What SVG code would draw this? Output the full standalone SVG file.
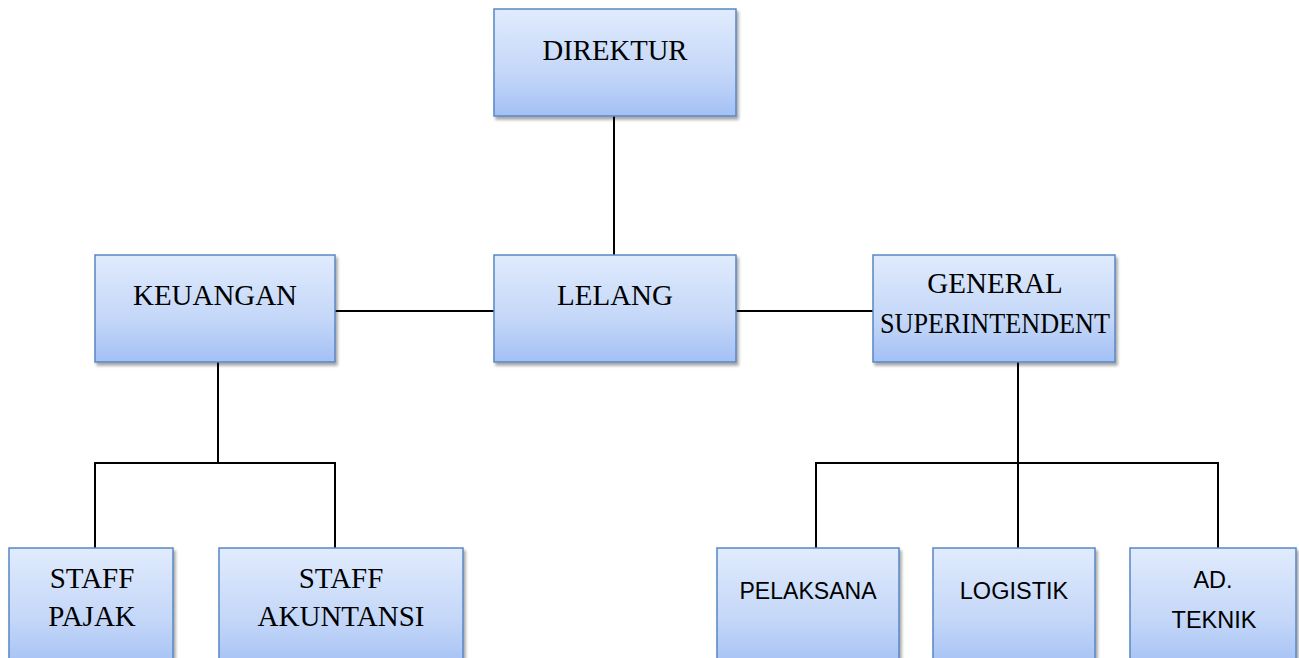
<svg xmlns="http://www.w3.org/2000/svg" width="1299" height="658" viewBox="0 0 1299 658">
<defs>
<linearGradient id="g" x1="0" y1="0" x2="0" y2="1">
<stop offset="0" stop-color="#e0ebfd"/>
<stop offset="0.6" stop-color="#c4d7f8"/>
<stop offset="1" stop-color="#a3c0f5"/>
</linearGradient>
<filter id="sh" x="-5%" y="-5%" width="115%" height="120%">
<feDropShadow dx="2" dy="3" stdDeviation="1.5" flood-color="#000" flood-opacity="0.35"/>
</filter>
</defs>
<style>
.box{fill:url(#g);stroke:#5a86c2;stroke-width:1.5;filter:url(#sh)}
.serif{font-family:"Liberation Serif","Times New Roman",serif;font-size:29px;fill:#000;text-anchor:middle}
.sans{font-family:"Liberation Sans",Arial,sans-serif;font-size:23.5px;fill:#000;text-anchor:middle}
.conn{stroke:#000;stroke-width:2;fill:none}
</style>
<rect width="1299" height="658" fill="#fff"/>
<g id="connectors">
<line class="conn" x1="614" y1="116" x2="614" y2="255"/>
<line class="conn" x1="335" y1="311" x2="494" y2="311"/>
<line class="conn" x1="736" y1="311" x2="873" y2="311"/>
<polyline class="conn" points="218,362 218,463"/>
<polyline class="conn" points="95,548 95,463 335,463 335,548"/>
<polyline class="conn" points="1018,362 1018,463"/>
<polyline class="conn" points="816,548 816,463 1218,463 1218,548"/>
<line class="conn" x1="1018" y1="463" x2="1018" y2="548"/>
</g>
<g id="direktur"><rect class="box" x="494" y="9" width="242" height="107"/><text class="serif" x="615" y="60" textLength="145" lengthAdjust="spacingAndGlyphs">DIREKTUR</text></g>
<g id="keuangan"><rect class="box" x="95" y="255" width="240" height="107"/><text class="serif" x="215" y="305" textLength="164" lengthAdjust="spacingAndGlyphs">KEUANGAN</text></g>
<g id="lelang"><rect class="box" x="494" y="255" width="242" height="107"/><text class="serif" x="615" y="305">LELANG</text></g>
<g id="general"><rect class="box" x="873" y="255" width="242" height="107"/><text class="serif" x="995" y="293">GENERAL</text><text class="serif" x="995" y="333" textLength="230" lengthAdjust="spacingAndGlyphs">SUPERINTENDENT</text></g>
<g id="staff-pajak"><rect class="box" x="9" y="548" width="164" height="120"/><text class="serif" x="92" y="588">STAFF</text><text class="serif" x="92" y="626">PAJAK</text></g>
<g id="staff-akuntansi"><rect class="box" x="219" y="548" width="244" height="120"/><text class="serif" x="341" y="588">STAFF</text><text class="serif" x="341" y="626">AKUNTANSI</text></g>
<g id="pelaksana"><rect class="box" x="717" y="548" width="182" height="120"/><text class="sans" x="808" y="599" textLength="137" lengthAdjust="spacingAndGlyphs">PELAKSANA</text></g>
<g id="logistik"><rect class="box" x="933" y="548" width="162" height="120"/><text class="sans" x="1014" y="599">LOGISTIK</text></g>
<g id="ad-teknik"><rect class="box" x="1130" y="548" width="166" height="120"/><text class="sans" x="1213" y="588">AD.</text><text class="sans" x="1214" y="628">TEKNIK</text></g>
</svg>
